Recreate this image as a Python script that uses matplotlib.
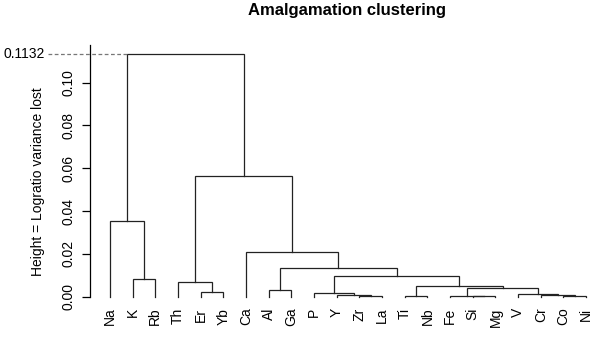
import numpy as np
import matplotlib as mpl
mpl.use("Agg")
import matplotlib.pyplot as plt
from matplotlib.transforms import blended_transform_factory

plt.rcParams["font.family"] = ["Liberation Sans", "DejaVu Sans"]

# leaf labels in plotted order
labels = ["Na", "K", "Rb", "Th", "Er", "Yb", "Ca", "Al", "Ga", "P", "Y", "Zr",
          "La", "Ti", "Nb", "Fe", "Si", "Mg", "V", "Cr", "Co", "Ni"]

# hclust-style merges: negative = leaf (1-based position), positive = earlier merge
merge_left = [-17, -14, -16, -21, -12, -11, -20, -19, -10, -5, -8, 3, 2, -4, -2, 9, 11, -7, -1, 14, 19]
merge_right = [-18, -15, 1, -22, -13, 5, 4, 7, 6, -6, -9, 8, 12, 10, -3, 13, 16, 17, 15, 18, 20]
merge_height = [0.0001, 0.0002, 0.0003, 0.0003, 0.0004, 0.0006, 0.0008, 0.0012, 0.0016, 0.0023,
                0.0030, 0.0038, 0.0049, 0.0067, 0.0084, 0.0098, 0.0132, 0.0207, 0.0355,
                0.0565, 0.1132]

yticks = [0.00, 0.02, 0.04, 0.06, 0.08, 0.10]
top_height = merge_height[-1]

W, H = 599, 338
fig = plt.figure(figsize=(W / 100, H / 100), dpi=100)
ax = fig.add_axes([90 / W, 31.7 / H, 505 / W, 261.5 / H])
ax.set_xlim(0.118, 22.39)
ax.set_ylim(-0.04 * top_height, 1.04 * top_height)

node_x = {}
node_h = {}

def pos(ref):
    if ref < 0:
        return -ref, 0.0
    return node_x[ref], node_h[ref]

for i, (a, b, h) in enumerate(zip(merge_left, merge_right, merge_height), start=1):
    xa, ha = pos(a)
    xb, hb = pos(b)
    ax.plot([xa, xa, xb, xb], [ha, h, h, hb], color="#222222", lw=0.9,
            solid_joinstyle="miter")
    node_x[i] = (xa + xb) / 2
    node_h[i] = h

# leaf labels
for i, lab in enumerate(labels, start=1):
    ax.annotate(lab, xy=(i, 0), xytext=(0, -8.0), textcoords="offset points",
                rotation=90, ha="center", va="top", fontsize=10)

# axis
for s in ["top", "right", "bottom"]:
    ax.spines[s].set_visible(False)
ax.spines["left"].set_bounds(0, 1.04 * top_height)
ax.spines["left"].set_linewidth(0.9)
ax.set_xticks([])
ax.set_yticks(yticks)
ax.set_yticklabels(["%.2f" % t for t in yticks], rotation=90, va="center", fontsize=10)
ax.tick_params(axis="y", length=6, width=0.9, pad=4.5)

fig.text(38 / W, 1 - 182 / H, "Height = Logratio variance lost", rotation=90,
         ha="center", va="center", fontsize=10)

# highlight top merge height
fig.canvas.draw()
x_start = ax.transData.inverted().transform(fig.transFigure.transform((48 / W, 0)))[0]
root_left_x = pos(merge_left[-1])[0]
ax.plot([x_start, root_left_x], [top_height, top_height], color="#777777", lw=0.9,
        ls=(0, (3, 2)), clip_on=False)
trans = blended_transform_factory(fig.transFigure, ax.transData)
ax.text(45 / W, top_height, "%.4f" % top_height, transform=trans, ha="right", va="center",
        fontsize=10)

fig.suptitle("Amalgamation clustering", x=347 / W, y=1 - 3 / H, va="top",
             fontsize=12, fontweight="bold")

fig.savefig("out.png", dpi=100)
